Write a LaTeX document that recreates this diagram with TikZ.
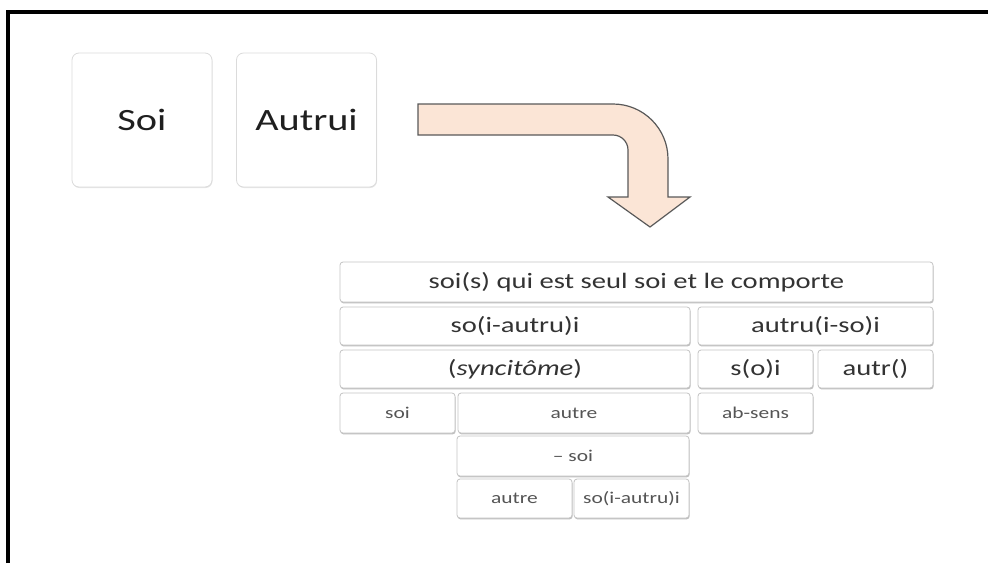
\documentclass[tikz,border=0pt]{standalone}
\usepackage{fontspec}
\setmainfont{Carlito}[FakeStretch=1.3]
\usetikzlibrary{shadows}

\definecolor{arrowfill}{HTML}{FBE5D6}
\definecolor{arrowline}{HTML}{595959}
\definecolor{boxline}{HTML}{C4C4C4}
\definecolor{darktext}{HTML}{333333}
\definecolor{softtext}{HTML}{555555}

\tikzset{
  cell/.style={draw=boxline, line width=0.8pt, rounded corners=3pt, fill=white,
    text=darktext, inner sep=0pt, font=\fontsize{22}{26}\selectfont,
    drop shadow={shadow xshift=0.6pt, shadow yshift=-1.4pt, fill=black, opacity=0.25}},
  small/.style={text=softtext, font=\fontsize{16.5}{19}\selectfont},
  card/.style={draw=black!14, line width=0.8pt, rounded corners=7pt, fill=white,
    text=black!88, inner sep=0pt, font=\fontsize{31}{36}\selectfont,
    minimum width=140pt, minimum height=134pt,
    drop shadow={shadow xshift=0.5pt, shadow yshift=-1pt, fill=black, opacity=0.1}}
}

\begin{document}
\begin{tikzpicture}[x=1pt,y=-1pt]
\useasboundingbox (0,0) rectangle (988,563);

% frame
\draw[line width=4pt] (8,563) -- (8,12) -- (988,12);

% the two cards
\node[card] (soi) at (142,120) {Soi};
\node[card] (autrui) at (306.5,120) {Autrui};

% bent arrow
\draw[fill=arrowfill, draw=arrowline, line width=1.2pt, line join=miter]
  (418,104) -- (613,104) arc[start angle=90, end angle=0, radius=55pt]
  -- (668,197) -- (690,197) -- (650,227) -- (608,197) -- (628,197)
  -- (628,150) arc[start angle=0, end angle=90, radius=15pt]
  -- (418,135) -- cycle;

% table of cells
\node[cell, minimum width=593pt, minimum height=40pt] (seul) at (636.5,282)
  {soi(s) qui est seul soi et le comporte};

\node[cell, minimum width=350pt, minimum height=38pt] (soautrui) at (515,326) {so(i-autru)i};
\node[cell, minimum width=235pt, minimum height=38pt] (autruso) at (815.5,326) {autru(i-so)i};

\node[cell, minimum width=350pt, minimum height=38pt] (syncitome) at (515,369) {(\textit{syncitôme})};
\node[cell, minimum width=115pt, minimum height=38pt] (so) at (755.5,369) {s(o)i};
\node[cell, minimum width=115pt, minimum height=38pt] (autr) at (875.5,369) {autr()};

\node[cell, small, minimum width=115pt, minimum height=40pt] (soibas) at (397.5,413) {soi};
\node[cell, small, minimum width=232pt, minimum height=40pt] (autre) at (574,413) {autre};
\node[cell, small, minimum width=115pt, minimum height=40pt] (absens) at (755.5,413) {ab-sens};

\node[cell, small, minimum width=232pt, minimum height=40pt] (moinssoi) at (573,456) {– soi};

\node[cell, small, minimum width=115pt, minimum height=39pt] (autrebas) at (514.5,498.5) {autre};
\node[cell, small, minimum width=115pt, minimum height=39pt] (soautruibas) at (631.5,498.5) {so(i-autru)i};
\end{tikzpicture}
\end{document}
